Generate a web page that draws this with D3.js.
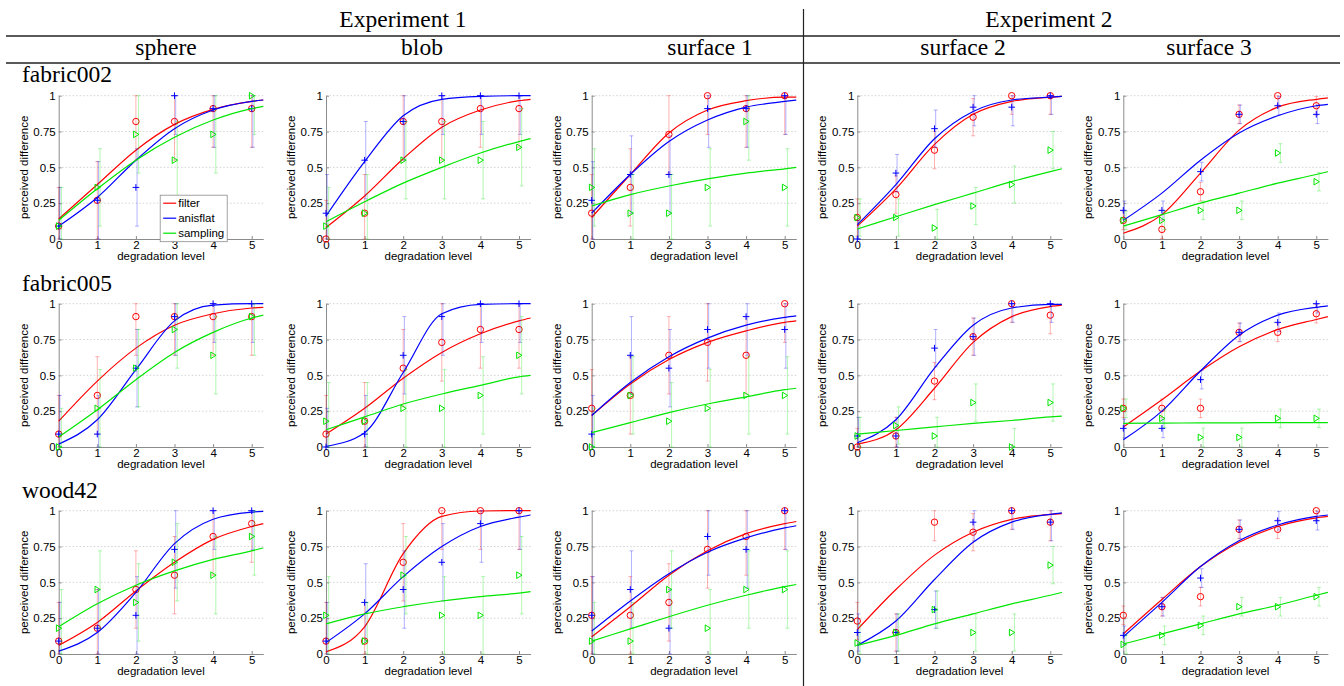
<!DOCTYPE html>
<html lang="en">
<head>
    <meta charset="UTF-8">
    <title>perceived difference</title>
    <style>
        body{ margin:0; background:#fff; }
        svg{ display:block; }
        .tick text{ font-family:"Liberation Sans", Arial, sans-serif; font-size:11.5px; fill:#000; }
        .serif{ font-family:"Liberation Serif", "Times New Roman", serif; font-size:23.5px; fill:#000; }
        .lbl{ font-family:"Liberation Sans", Arial, sans-serif; font-size:11.5px; fill:#000; }
    </style>
    <script src="https://cdn.jsdelivr.net/npm/d3@7/dist/d3.min.js"></script>
</head>
<body>
<div id="container"></div>
<script>
    // headers
    var experiments = ["Experiment 1", "Experiment 2"],
        columns = ["sphere", "blob", "surface 1", "surface 2", "surface 3"],
        rows = ["fabric002", "fabric005", "wood42"],
        seriesNames = ["filter", "anisflat", "sampling"];

    var levels = [0, 1, 2, 3, 4, 5],
        fitX = [0, 1, 2, 3, 4, 5, 5.3],
        xTicks = [0, 1, 2, 3, 4, 5],
        xTickLabels = ["0", "1", "2", "3", "4", "5"],
        yTicks = [0, 0.25, 0.5, 0.75, 1],
        yTickLabels = ["0", "0.25", "0.5", "0.75", "1"];

    // half length of the error bars, per column
    var errHalf = [0.27, 0.27, 0.27, 0.13, 0.065];

    // measured points [row][column][level]
    var filterPts = [
        [[0.09,0.27,0.82,0.82,0.91,0.91],[0,0.18,0.82,0.82,0.91,0.91],[0.18,0.36,0.73,1,0.91,1],[0.15,0.31,0.62,0.85,1,1],[0.13,0.067,0.33,0.87,1,0.93]],
        [[0.09,0.36,0.91,0.91,0.91,0.91],[0.09,0.18,0.55,0.73,0.82,0.82],[0.27,0.36,0.64,0.73,0.64,1],[0,0.077,0.46,0.77,1,0.92],[0.27,0.27,0.27,0.8,0.8,0.93]],
        [[0.09,0.18,0.45,0.55,0.82,0.91],[0.09,0.09,0.64,1,1,1],[0.27,0.27,0.36,0.73,0.82,1],[0.23,0.15,0.92,0.85,1,0.92],[0.27,0.33,0.4,0.87,0.87,1]]
    ];
    var anisflatPts = [
        [[0.09,0.27,0.36,1,0.91,0.91],[0.18,0.55,0.82,1,1,1],[0.27,0.45,0.45,0.91,0.91,1],[0,0.46,0.77,0.92,0.92,1],[0.2,0.2,0.47,0.87,0.93,0.87]],
        [[0.09,0.09,0.55,0.91,1,1],[0,0.09,0.64,0.91,1,1],[0.09,0.64,0.55,0.82,0.91,0.82],[0.077,0.077,0.69,0.77,1,1],[0.13,0.13,0.47,0.8,0.87,1]],
        [[0.09,0.18,0.27,0.73,1,1],[0.09,0.36,0.45,0.64,0.91,1],[0.27,0.45,0.18,0.82,0.73,1],[0.15,0.15,0.31,0.92,1,0.92],[0.13,0.33,0.53,0.87,0.93,0.93]]
    ];
    var samplingPts = [
        [[0.09,0.36,0.73,0.55,0.73,1],[0.09,0.18,0.55,0.55,0.55,0.64],[0.36,0.18,0.18,0.36,0.82,0.36],[0.15,0.15,0.077,0.23,0.38,0.62],[0.13,0.13,0.2,0.2,0.6,0.4]],
        [[0,0.27,0.55,0.82,0.64,0.91],[0.18,0.18,0.27,0.27,0.36,0.64],[0,0.36,0.18,0.27,0.36,0.36],[0.077,0.15,0.077,0.31,0,0.31],[0.27,0.2,0.067,0.067,0.2,0.2]],
        [[0.18,0.45,0.36,0.64,0.55,0.82],[0.27,0.09,0.55,0.27,0.27,0.55],[0.09,0.09,0.45,0.18,0.45,0.45],[0.077,0.15,0.31,0.15,0.15,0.62],[0.067,0.13,0.2,0.33,0.33,0.4]]
    ];

    // fitted curves read at fitX [row][column][i]
    var filterFit = [
        [[0.14,0.38,0.62,0.80,0.905,0.96,0.97],[0.08,0.30,0.56,0.78,0.90,0.965,0.975],[0.15,0.45,0.74,0.90,0.965,0.99,0.99],[0.09,0.35,0.66,0.87,0.96,0.99,0.995],[0.04,0.17,0.46,0.76,0.92,0.975,0.985]],
        [[0.18,0.46,0.69,0.85,0.93,0.97,0.975],[0.09,0.27,0.48,0.66,0.79,0.88,0.90],[0.22,0.44,0.61,0.73,0.81,0.87,0.88],[0.02,0.12,0.41,0.73,0.91,0.98,0.99],[0.14,0.33,0.53,0.70,0.82,0.89,0.91]],
        [[0.06,0.22,0.44,0.64,0.80,0.89,0.91],[0.015,0.19,0.70,0.96,0.998,1,1],[0.12,0.33,0.55,0.72,0.84,0.91,0.925],[0.17,0.45,0.69,0.85,0.94,0.975,0.98],[0.14,0.38,0.61,0.78,0.89,0.95,0.96]]
    ];
    var anisflatFit = [
        [[0.09,0.29,0.55,0.77,0.90,0.96,0.97],[0.16,0.54,0.86,0.975,0.995,1,1],[0.18,0.45,0.68,0.83,0.92,0.96,0.97],[0.10,0.38,0.70,0.89,0.97,0.99,0.995],[0.13,0.32,0.55,0.74,0.86,0.93,0.94]],
        [[0.02,0.19,0.54,0.88,0.99,1,1],[0.005,0.10,0.52,0.93,0.995,1,1],[0.22,0.45,0.63,0.76,0.85,0.905,0.915],[0.03,0.19,0.55,0.85,0.97,0.995,0.995],[0.05,0.25,0.53,0.78,0.92,0.975,0.985]],
        [[0.02,0.15,0.43,0.77,0.94,0.99,0.995],[0.08,0.28,0.54,0.75,0.89,0.955,0.97],[0.16,0.37,0.56,0.71,0.81,0.88,0.895],[0.06,0.23,0.52,0.78,0.92,0.975,0.985],[0.12,0.36,0.61,0.79,0.90,0.96,0.97]]
    ];
    var samplingFit = [
        [[0.13,0.35,0.55,0.71,0.83,0.91,0.925],[0.12,0.26,0.39,0.50,0.60,0.68,0.70],[0.23,0.31,0.37,0.42,0.46,0.49,0.50],[0.07,0.155,0.24,0.32,0.40,0.47,0.49],[0.09,0.17,0.25,0.32,0.39,0.45,0.47]],
        [[0.07,0.26,0.47,0.66,0.80,0.90,0.92],[0.12,0.21,0.30,0.37,0.43,0.49,0.50],[0.10,0.17,0.24,0.30,0.35,0.40,0.41],[0.09,0.115,0.14,0.165,0.185,0.21,0.215],[0.165,0.167,0.168,0.169,0.17,0.17,0.17]],
        [[0.19,0.35,0.48,0.58,0.66,0.72,0.74],[0.21,0.28,0.33,0.37,0.40,0.425,0.435],[0.09,0.175,0.26,0.34,0.41,0.47,0.485],[0.06,0.13,0.21,0.28,0.35,0.41,0.43],[0.07,0.14,0.21,0.28,0.34,0.41,0.43]]
    ];

    var w = 1344, h = 686;
    var colX0 = [58.7, 326, 591.7, 857.3, 1123.3],
        colCenter = [166, 422, 710, 963, 1209],
        expCenter = [403, 1049],
        rowTop = [95.7, 303.7, 510.7],
        rowLabelY = [82.3, 290.7, 498.3],
        unit = 38.6, plotH = 143.3;

    var colors = {filter: '#ff0000', anisflat: '#0000ff', sampling: '#00e600'},
        barShift = {filter: 0, anisflat: 0.03, sampling: 0.07};
    var pts = {filter: filterPts, anisflat: anisflatPts, sampling: samplingPts},
        fits = {filter: filterFit, anisflat: anisflatFit, sampling: samplingFit};

    var svg = d3.select('#container').append('svg').attr('width', w).attr('height', h);

    // header rules
    svg.append('line').attr('x1', 6).attr('x2', 1340).attr('y1', 36).attr('y2', 36)
        .attr('stroke', '#222').attr('stroke-width', 1.4);
    svg.append('line').attr('x1', 6).attr('x2', 1340).attr('y1', 63).attr('y2', 63)
        .attr('stroke', '#222').attr('stroke-width', 1.4);
    svg.append('line').attr('x1', 803.5).attr('x2', 803.5).attr('y1', 9).attr('y2', h)
        .attr('stroke', '#222').attr('stroke-width', 1.2);

    svg.selectAll('text.exp').data(experiments).enter().append('text')
        .attr('class', 'serif exp').attr('x', function (d, i) { return expCenter[i]; })
        .attr('y', 27).attr('text-anchor', 'middle').text(function (d) { return d; });
    svg.selectAll('text.col').data(columns).enter().append('text')
        .attr('class', 'serif col').attr('x', function (d, i) { return colCenter[i]; })
        .attr('y', 55).attr('text-anchor', 'middle').text(function (d) { return d; });
    svg.selectAll('text.row').data(rows).enter().append('text')
        .attr('class', 'serif row').attr('x', 22)
        .attr('y', function (d, i) { return rowLabelY[i]; }).text(function (d) { return d; });

    var x = d3.scaleLinear().domain([0, 5.3]).range([0, 5.3 * unit]),
        y = d3.scaleLinear().domain([0, 1]).range([plotH, 0]);
    var line = d3.line().x(function (d) { return x(d[0]); }).y(function (d) { return y(d[1]); })
        .curve(d3.curveMonotoneX);

    rows.forEach(function (rowName, r) {
        columns.forEach(function (colName, c) {
            var g = svg.append('g').attr('transform', 'translate(' + colX0[c] + ',' + rowTop[r] + ')');

            // dotted grid
            g.selectAll('line.grid').data(yTicks.slice(1)).enter().append('line')
                .attr('x1', 0).attr('x2', x(5.3))
                .attr('y1', function (d) { return y(d); }).attr('y2', function (d) { return y(d); })
                .attr('stroke', '#c8c8c8').attr('stroke-width', 0.8).attr('stroke-dasharray', '1.5,2');

            var xAxis = d3.axisBottom(x).tickValues(xTicks).tickSizeInner(-3).tickSizeOuter(0).tickPadding(1.5)
                    .tickFormat(function (d, i) { return xTickLabels[i]; }),
                yAxis = d3.axisLeft(y).tickValues(yTicks).tickSizeInner(-3).tickSizeOuter(0).tickPadding(3)
                    .tickFormat(function (d, i) { return yTickLabels[i]; });
            var gx = g.append('g').attr('transform', 'translate(0,' + plotH + ')').call(xAxis);
            var gy = g.append('g').call(yAxis);
            [gx, gy].forEach(function (a) {
                a.select('.domain').attr('stroke', '#8c8c8c');
                a.selectAll('.tick line').attr('stroke', '#8c8c8c');
                a.attr('font-family', null).attr('font-size', null);
            });

            g.append('text').attr('class', 'lbl').attr('text-anchor', 'middle')
                .attr('x', x(5.3) / 2).attr('y', plotH + 21).text('degradation level');
            g.append('text').attr('class', 'lbl').attr('text-anchor', 'middle')
                .attr('transform', 'translate(-31,' + (plotH / 2) + ') rotate(-90)')
                .text('perceived difference');

            seriesNames.forEach(function (s) {
                var vals = pts[s][r][c], col = colors[s], eh = errHalf[c];

                // error bars
                var eb = g.append('g').attr('stroke', col).attr('stroke-opacity', 0.3).attr('stroke-width', 1);
                vals.forEach(function (v, i) {
                    var bx = x(levels[i] + barShift[s]),
                        lo = y(Math.max(0, v - eh)), hi = y(Math.min(1, v + eh));
                    eb.append('line').attr('x1', bx).attr('x2', bx).attr('y1', lo).attr('y2', hi);
                    eb.append('line').attr('x1', bx - 2).attr('x2', bx + 2).attr('y1', lo).attr('y2', lo);
                    eb.append('line').attr('x1', bx - 2).attr('x2', bx + 2).attr('y1', hi).attr('y2', hi);
                });

                // fitted curve
                g.append('path').datum(fitX.map(function (fx, i) { return [fx, fits[s][r][c][i]]; }))
                    .attr('d', line).attr('fill', 'none').attr('stroke', col).attr('stroke-width', 1.2);

                // markers
                var mk = g.append('g').attr('fill', 'none').attr('stroke', col).attr('stroke-width', 1);
                vals.forEach(function (v, i) {
                    var px = x(levels[i]), py = y(v);
                    if (s === 'filter') {
                        mk.append('circle').attr('cx', px).attr('cy', py).attr('r', 3.2);
                    } else if (s === 'anisflat') {
                        mk.append('path').attr('d', 'M' + (px - 3.3) + ',' + py + 'H' + (px + 3.3) +
                            'M' + px + ',' + (py - 3.3) + 'V' + (py + 3.3));
                    } else {
                        mk.append('path').attr('d', 'M' + (px - 2.3) + ',' + (py - 3.3) + 'L' + (px + 3) + ',' + py +
                            'L' + (px - 2.3) + ',' + (py + 3.3) + 'Z');
                    }
                });
            });

            // legend only in the first panel
            if (r === 0 && c === 0) {
                var lg = g.append('g').attr('transform', 'translate(101.5,99.5)');
                lg.append('rect').attr('width', 67).attr('height', 46.5)
                    .attr('fill', '#fff').attr('stroke', '#8c8c8c').attr('stroke-width', 0.8);
                seriesNames.forEach(function (s, i) {
                    var ly = 8 + i * 15;
                    lg.append('line').attr('x1', 3).attr('x2', 16).attr('y1', ly).attr('y2', ly)
                        .attr('stroke', colors[s]).attr('stroke-width', 1.2);
                    lg.append('text').attr('class', 'lbl').attr('x', 18).attr('y', ly + 4).text(s);
                });
            }
        });
    });
</script>
</body>
</html>
